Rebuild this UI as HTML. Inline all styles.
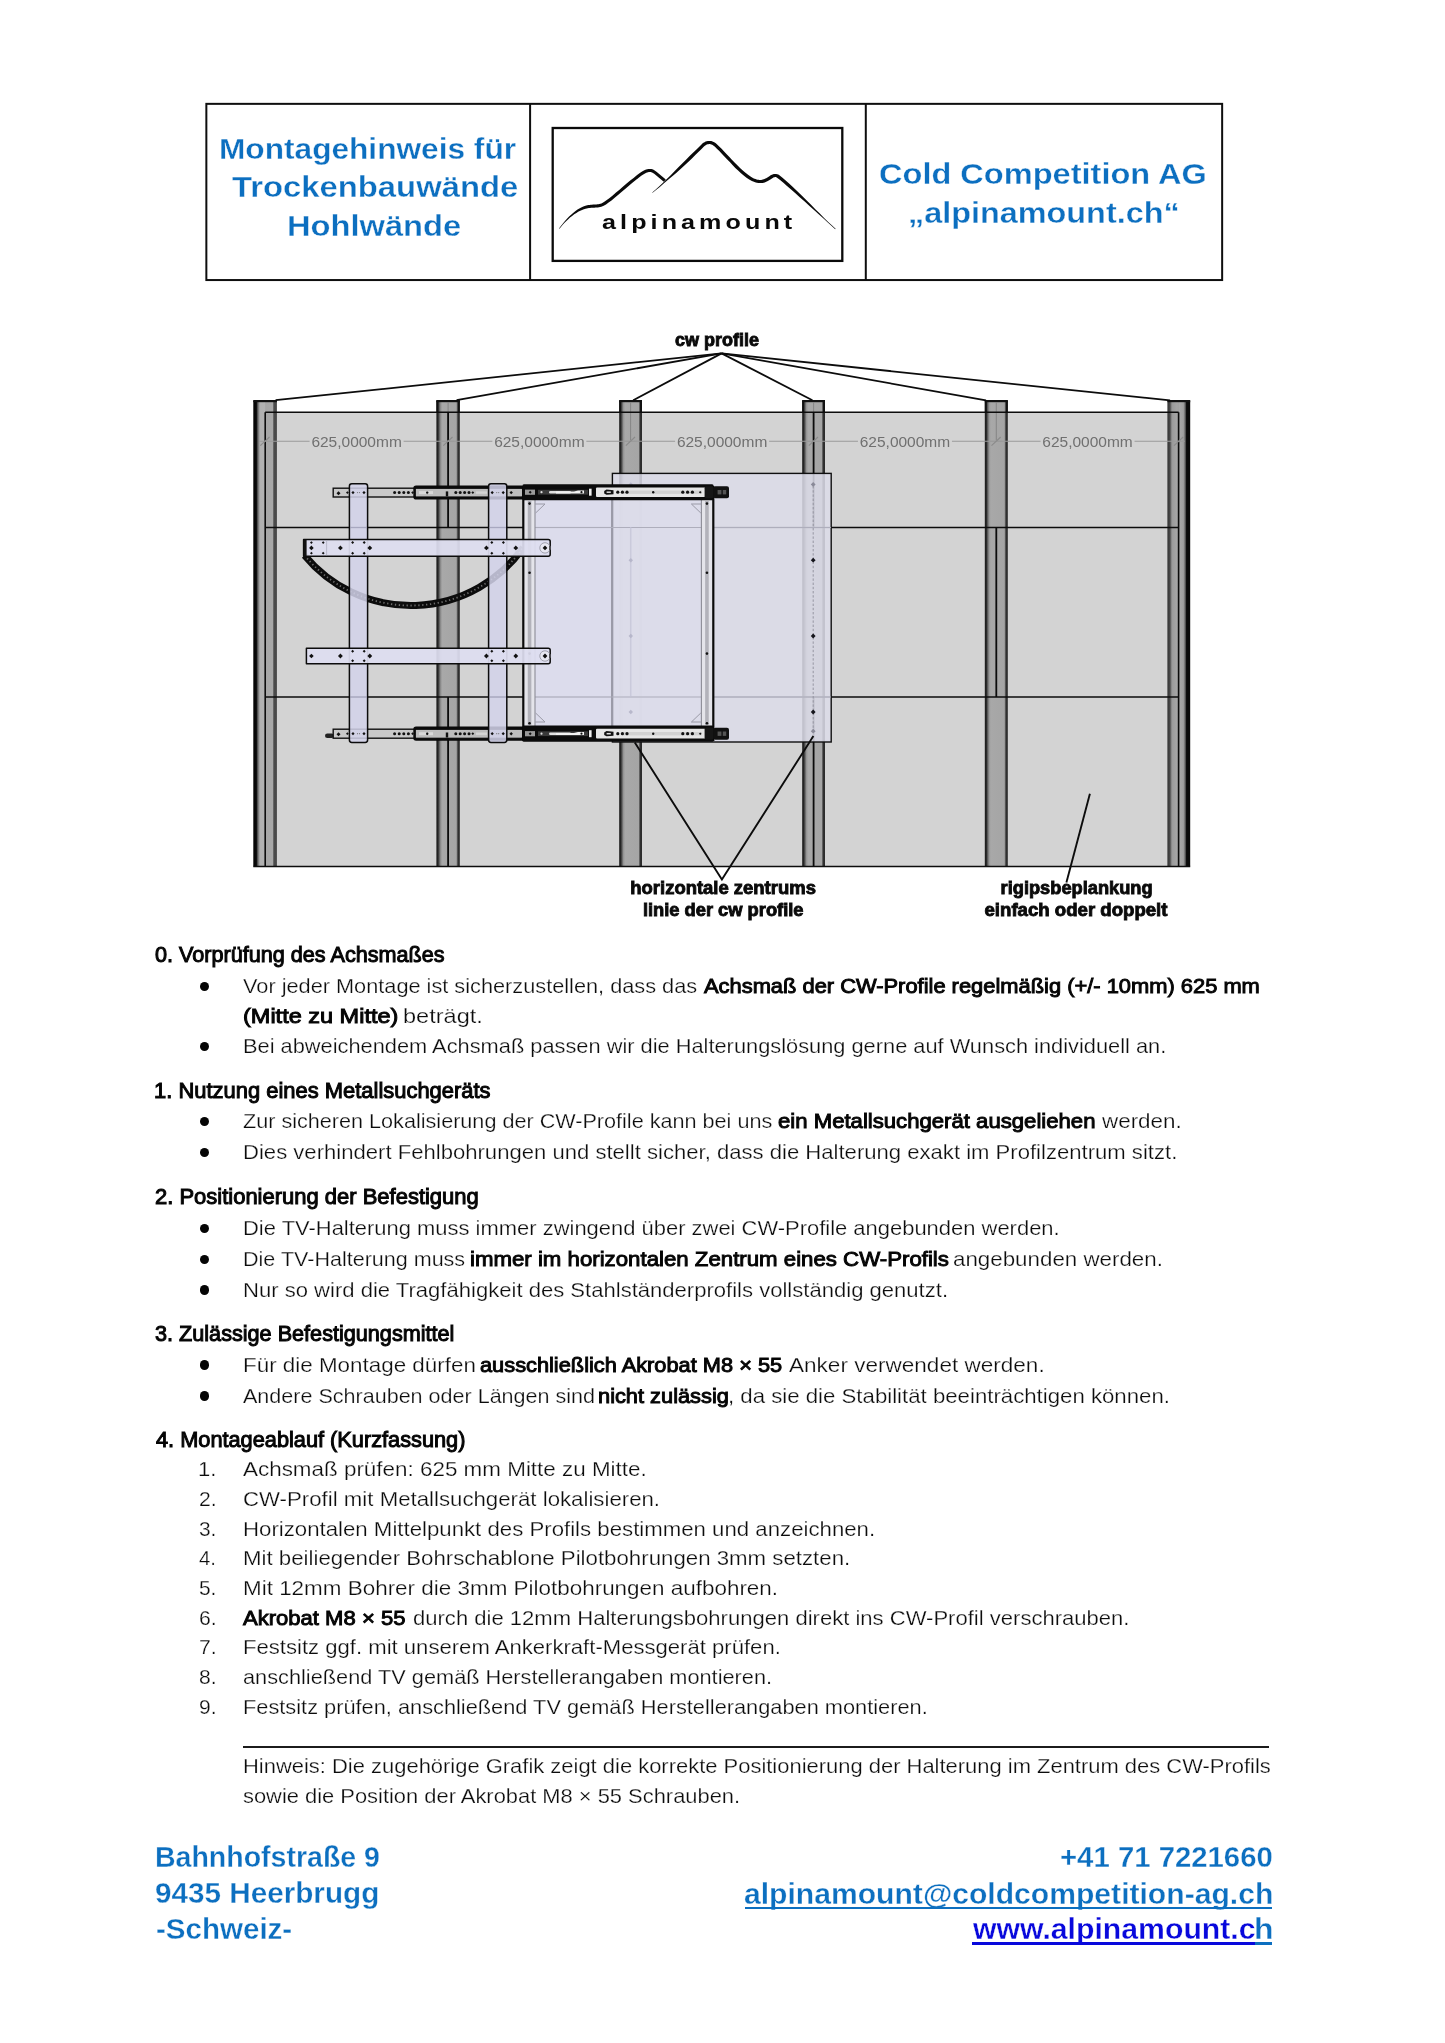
<!DOCTYPE html>
<html lang="de"><head><meta charset="utf-8"><title>Montagehinweis</title>
<style>
html,body{margin:0;padding:0;background:#fff}
body{width:1445px;height:2043px;position:relative;overflow:hidden;font-family:"Liberation Sans",sans-serif}
.t{position:absolute;white-space:nowrap;line-height:1;transform-origin:0 0;margin:0;padding:0}
.b{font-weight:bold}
.lt{-webkit-text-stroke:0.25px #fff}
.bl{-webkit-text-stroke:0.32px #fff}
.fb{-webkit-text-stroke:0.95px #050505}
.fh{-webkit-text-stroke:1.05px #050505}
#tx{position:absolute;left:0;top:0;width:1445px;height:2043px;will-change:transform}
.hd{position:absolute;border:1.9px solid #111;box-sizing:border-box}
.bu{position:absolute;width:9.4px;height:9.4px;border-radius:50%;background:#050505}
.ul{position:absolute;height:2.2px}
</style></head><body>
<svg width="1445" height="2043" viewBox="0 0 1445 2043" style="position:absolute;left:0;top:0;will-change:transform">
<defs>
<linearGradient id="sg" x1="0" x2="1" y1="0" y2="0">
<stop offset="0" stop-color="#1a1a1a"/><stop offset="0.07" stop-color="#262626"/><stop offset="0.12" stop-color="#5a5a5a"/>
<stop offset="0.19" stop-color="#969696"/><stop offset="0.26" stop-color="#a8a8a8"/><stop offset="0.85" stop-color="#a5a5a5"/>
<stop offset="0.89" stop-color="#606060"/><stop offset="0.93" stop-color="#303030"/><stop offset="1" stop-color="#2a2a2a"/>
</linearGradient>
<linearGradient id="sgr" x1="0" x2="1" y1="0" y2="0">
<stop offset="0" stop-color="#333"/><stop offset="0.11" stop-color="#484848"/><stop offset="0.2" stop-color="#9a9a9a"/>
<stop offset="0.42" stop-color="#a6a6a6"/><stop offset="0.48" stop-color="#a2a2a2"/>
<stop offset="0.52" stop-color="#a8a8a8"/><stop offset="0.70" stop-color="#a0a0a0"/><stop offset="0.78" stop-color="#666"/><stop offset="0.84" stop-color="#0a0a0a"/><stop offset="1" stop-color="#0a0a0a"/>
</linearGradient>
<linearGradient id="sgl" x1="0" x2="1" y1="0" y2="0">
<stop offset="0" stop-color="#050505"/><stop offset="0.13" stop-color="#080808"/><stop offset="0.19" stop-color="#606060"/>
<stop offset="0.28" stop-color="#b0b0b0"/><stop offset="0.48" stop-color="#b2b2b2"/>
<stop offset="0.52" stop-color="#a6a6a6"/><stop offset="0.82" stop-color="#a8a8a8"/><stop offset="0.87" stop-color="#4c4c4c"/><stop offset="1" stop-color="#464646"/>
</linearGradient>
</defs>
<rect x="265.2" y="412.2" width="913.4" height="454.2" fill="#d3d3d3"/>
<rect x="253.3" y="400.6" width="23.6" height="465.8" fill="url(#sgl)"/>
<rect x="253.3" y="400" width="23.6" height="2.2" fill="#111"/>
<rect x="436.4" y="400.6" width="23.4" height="465.8" fill="url(#sg)"/>
<rect x="436.4" y="400" width="23.4" height="2.2" fill="#111"/>
<path d="M437.35 400.6V412.2M458.85 400.6V412.2" stroke="#111" stroke-width="1.9" fill="none"/>
<line x1="448.1" x2="448.1" y1="402.6" y2="440.2" stroke="#777" stroke-width="0.7"/>
<rect x="619.2" y="400.6" width="22.8" height="465.8" fill="url(#sg)"/>
<rect x="619.2" y="400" width="22.8" height="2.2" fill="#111"/>
<path d="M620.15 400.6V412.2M641.05 400.6V412.2" stroke="#111" stroke-width="1.9" fill="none"/>
<line x1="630.6" x2="630.6" y1="402.6" y2="440.2" stroke="#777" stroke-width="0.7"/>
<rect x="802.2" y="400.6" width="22.8" height="465.8" fill="url(#sg)"/>
<rect x="802.2" y="400" width="22.8" height="2.2" fill="#111"/>
<path d="M803.15 400.6V412.2M824.05 400.6V412.2" stroke="#111" stroke-width="1.9" fill="none"/>
<line x1="813.6" x2="813.6" y1="402.6" y2="440.2" stroke="#777" stroke-width="0.7"/>
<rect x="984.8" y="400.6" width="23" height="465.8" fill="url(#sg)"/>
<rect x="984.8" y="400" width="23" height="2.2" fill="#111"/>
<path d="M985.75 400.6V412.2M1006.85 400.6V412.2" stroke="#111" stroke-width="1.9" fill="none"/>
<line x1="996.3" x2="996.3" y1="402.6" y2="440.2" stroke="#777" stroke-width="0.7"/>
<rect x="1167.4" y="400.6" width="22.8" height="465.8" fill="url(#sgr)"/>
<rect x="1167.4" y="400" width="22.8" height="2.2" fill="#111"/>
<path d="M265.2 412.2H1178.6M265.2 527.5H1178.6M265.2 697H1178.6M253.3 866.4H1190.2" stroke="#0c0c0c" stroke-width="1.5" fill="none"/>
<path d="M265.2 412.2V866.4M1178.6 412.2V866.4" stroke="#0c0c0c" stroke-width="1.6" fill="none"/>
<line x1="448.1" x2="448.1" y1="412.2" y2="527.5" stroke="#0c0c0c" stroke-width="1.8"/>
<line x1="448.1" x2="448.1" y1="697" y2="866.4" stroke="#0c0c0c" stroke-width="1.8"/>
<line x1="813.6" x2="813.6" y1="412.2" y2="527.5" stroke="#0c0c0c" stroke-width="1.8"/>
<line x1="813.6" x2="813.6" y1="697" y2="866.4" stroke="#0c0c0c" stroke-width="1.8"/>
<line x1="996.3" x2="996.3" y1="527.5" y2="697" stroke="#0c0c0c" stroke-width="1.8"/>
<line x1="630.6" x2="630.6" y1="527.5" y2="697" stroke="#0c0c0c" stroke-width="1.8"/>
<path d="M259.1 441.2H309.6M403.6 441.2H454.1" stroke="#9a9a9a" stroke-width="1.1" fill="none"/>
<text x="356.6" y="446.7" font-family="Liberation Sans, sans-serif" font-size="14.2" fill="#707070" text-anchor="middle" textLength="90.4" lengthAdjust="spacingAndGlyphs">625,0000mm</text>
<path d="M442.1 441.2H492.35M586.35 441.2H636.6" stroke="#9a9a9a" stroke-width="1.1" fill="none"/>
<text x="539.35" y="446.7" font-family="Liberation Sans, sans-serif" font-size="14.2" fill="#707070" text-anchor="middle" textLength="90.4" lengthAdjust="spacingAndGlyphs">625,0000mm</text>
<path d="M624.6 441.2H675.1M769.1 441.2H819.6" stroke="#9a9a9a" stroke-width="1.1" fill="none"/>
<text x="722.1" y="446.7" font-family="Liberation Sans, sans-serif" font-size="14.2" fill="#707070" text-anchor="middle" textLength="90.4" lengthAdjust="spacingAndGlyphs">625,0000mm</text>
<path d="M807.6 441.2H857.95M951.95 441.2H1002.3" stroke="#9a9a9a" stroke-width="1.1" fill="none"/>
<text x="904.95" y="446.7" font-family="Liberation Sans, sans-serif" font-size="14.2" fill="#707070" text-anchor="middle" textLength="90.4" lengthAdjust="spacingAndGlyphs">625,0000mm</text>
<path d="M990.3 441.2H1040.55M1134.55 441.2H1184.8" stroke="#9a9a9a" stroke-width="1.1" fill="none"/>
<text x="1087.55" y="446.7" font-family="Liberation Sans, sans-serif" font-size="14.2" fill="#707070" text-anchor="middle" textLength="90.4" lengthAdjust="spacingAndGlyphs">625,0000mm</text>
<line x1="260.3" y1="445.6" x2="269.5" y2="437" stroke="#8a8a8a" stroke-width="1.1"/>
<line x1="443.3" y1="445.6" x2="452.5" y2="437" stroke="#8a8a8a" stroke-width="1.1"/>
<line x1="625.8" y1="445.6" x2="635" y2="437" stroke="#8a8a8a" stroke-width="1.1"/>
<line x1="808.8" y1="445.6" x2="818" y2="437" stroke="#8a8a8a" stroke-width="1.1"/>
<line x1="991.5" y1="445.6" x2="1000.7" y2="437" stroke="#8a8a8a" stroke-width="1.1"/>
<line x1="1174" y1="445.6" x2="1183.2" y2="437" stroke="#8a8a8a" stroke-width="1.1"/>
<line x1="721.6" y1="353.4" x2="275.6" y2="400.2" stroke="#0c0c0c" stroke-width="1.8"/>
<line x1="721.6" y1="353.4" x2="456.6" y2="400.2" stroke="#0c0c0c" stroke-width="1.8"/>
<line x1="721.6" y1="353.4" x2="633.2" y2="400.2" stroke="#0c0c0c" stroke-width="1.8"/>
<line x1="721.6" y1="353.4" x2="812.4" y2="400.2" stroke="#0c0c0c" stroke-width="1.8"/>
<line x1="721.6" y1="353.4" x2="986" y2="400.4" stroke="#0c0c0c" stroke-width="1.8"/>
<line x1="721.6" y1="353.4" x2="1170" y2="400.4" stroke="#0c0c0c" stroke-width="1.8"/>
<rect x="333.2" y="488.2" width="190" height="8.8" fill="#c9c9c9" stroke="#111" stroke-width="1.4"/>
<rect x="414.6" y="486.9" width="108.5" height="11.4" rx="1.5" fill="none" stroke="#0a0a0a" stroke-width="2.6"/>
<rect x="416" y="489.1" width="106" height="7" fill="#bdbdbd"/>
<circle cx="394.6" cy="492.6" r="1.5" fill="#111"/>
<circle cx="399.2" cy="492.6" r="1.5" fill="#111"/>
<circle cx="403.8" cy="492.6" r="1.5" fill="#111"/>
<circle cx="408.4" cy="492.6" r="1.5" fill="#111"/>
<path d="M411.2 492.6L412.6 491.2L414 492.6L412.6 494Z" fill="#111" opacity="1"/>
<path d="M425.6 492.6L427.2 491L428.8 492.6L427.2 494.2Z" fill="#111" opacity="1"/>
<rect x="419" y="491.1" width="14" height="3" fill="#d8d8d8"/>
<circle cx="427.2" cy="492.6" r="1.2" fill="#111"/>
<rect x="445.8" y="491.4" width="2.4" height="5" fill="#111"/>
<circle cx="455.8" cy="492.6" r="1.5" fill="#111"/>
<circle cx="460.2" cy="492.6" r="1.5" fill="#111"/>
<circle cx="464.6" cy="492.6" r="1.5" fill="#111"/>
<circle cx="469" cy="492.6" r="1.5" fill="#111"/>
<path d="M471.4 492.6L472.8 491.2L474.2 492.6L472.8 494Z" fill="#111" opacity="1"/>
<rect x="476" y="491.4" width="11" height="2.4" fill="#d4d4d4"/>
<path d="M509.5 492.6L511.2 490.9L512.9 492.6L511.2 494.3Z" fill="#111" opacity="1"/>
<path d="M336.5 493.2L338.5 491.2L340.5 493.2L338.5 495.2Z" fill="#111" opacity="1"/>
<path d="M346 492.6L347.4 491.2L348.8 492.6L347.4 494Z" fill="#111" opacity="1"/>
<rect x="325" y="733.5" width="9" height="4.6" rx="2.3" fill="#222"/>
<rect x="333.2" y="729.2" width="190" height="9" fill="#c9c9c9" stroke="#111" stroke-width="1.4"/>
<rect x="414.6" y="727.9" width="108.5" height="11.6" rx="1.5" fill="none" stroke="#0a0a0a" stroke-width="2.6"/>
<rect x="416" y="730.1" width="106" height="7.2" fill="#bdbdbd"/>
<circle cx="394.6" cy="733.7" r="1.5" fill="#111"/>
<circle cx="399.2" cy="733.7" r="1.5" fill="#111"/>
<circle cx="403.8" cy="733.7" r="1.5" fill="#111"/>
<circle cx="408.4" cy="733.7" r="1.5" fill="#111"/>
<path d="M411.2 733.7L412.6 732.3L414 733.7L412.6 735.1Z" fill="#111" opacity="1"/>
<path d="M425.6 733.7L427.2 732.1L428.8 733.7L427.2 735.3Z" fill="#111" opacity="1"/>
<rect x="419" y="732.2" width="14" height="3" fill="#d8d8d8"/>
<circle cx="427.2" cy="733.7" r="1.2" fill="#111"/>
<rect x="445.8" y="732.5" width="2.4" height="5" fill="#111"/>
<circle cx="455.8" cy="733.7" r="1.5" fill="#111"/>
<circle cx="460.2" cy="733.7" r="1.5" fill="#111"/>
<circle cx="464.6" cy="733.7" r="1.5" fill="#111"/>
<circle cx="469" cy="733.7" r="1.5" fill="#111"/>
<path d="M471.4 733.7L472.8 732.3L474.2 733.7L472.8 735.1Z" fill="#111" opacity="1"/>
<rect x="476" y="732.5" width="11" height="2.4" fill="#d4d4d4"/>
<path d="M509.5 733.7L511.2 732L512.9 733.7L511.2 735.4Z" fill="#111" opacity="1"/>
<path d="M336.5 734.3L338.5 732.3L340.5 734.3L338.5 736.3Z" fill="#111" opacity="1"/>
<path d="M346 733.7L347.4 732.3L348.8 733.7L347.4 735.1Z" fill="#111" opacity="1"/>
<path d="M304.6 555.4A137.8 137.8 0 0 0 523.2 547.6" fill="none" stroke="#0c0c0c" stroke-width="7"/>
<path d="M304.6 555.4A137.8 137.8 0 0 0 523.2 547.6" fill="none" stroke="#6c6c6c" stroke-width="1.8" stroke-dasharray="1.3 2.6"/>
<rect x="349.4" y="483.8" width="18.2" height="258.6" rx="2.4" fill="#d3d3ea" fill-opacity="0.86" stroke="#0c0c0c" stroke-width="1.5"/>
<path d="M351.4 492.6L353 491L354.6 492.6L353 494.2Z" fill="#111" opacity="1"/>
<path d="M362.4 492.6L364 491L365.6 492.6L364 494.2Z" fill="#111" opacity="1"/>
<circle cx="357.5" cy="492.6" r="0.6" fill="#777"/>
<circle cx="359.5" cy="492.6" r="0.6" fill="#777"/>
<path d="M351.4 733.7L353 732.1L354.6 733.7L353 735.3Z" fill="#111" opacity="1"/>
<path d="M362.4 733.7L364 732.1L365.6 733.7L364 735.3Z" fill="#111" opacity="1"/>
<circle cx="357.5" cy="733.7" r="0.6" fill="#777"/>
<circle cx="359.5" cy="733.7" r="0.6" fill="#777"/>
<line x1="350.4" x2="366.6" y1="527.5" y2="527.5" stroke="#a8a8c0" stroke-width="1"/>
<line x1="350.4" x2="366.6" y1="697" y2="697" stroke="#a8a8c0" stroke-width="1"/>
<rect x="488.6" y="483.8" width="18.2" height="258.6" rx="2.4" fill="#d3d3ea" fill-opacity="0.86" stroke="#0c0c0c" stroke-width="1.5"/>
<path d="M490.6 492.6L492.2 491L493.8 492.6L492.2 494.2Z" fill="#111" opacity="1"/>
<path d="M501.6 492.6L503.2 491L504.8 492.6L503.2 494.2Z" fill="#111" opacity="1"/>
<circle cx="496.7" cy="492.6" r="0.6" fill="#777"/>
<circle cx="498.7" cy="492.6" r="0.6" fill="#777"/>
<path d="M490.6 733.7L492.2 732.1L493.8 733.7L492.2 735.3Z" fill="#111" opacity="1"/>
<path d="M501.6 733.7L503.2 732.1L504.8 733.7L503.2 735.3Z" fill="#111" opacity="1"/>
<circle cx="496.7" cy="733.7" r="0.6" fill="#777"/>
<circle cx="498.7" cy="733.7" r="0.6" fill="#777"/>
<line x1="489.6" x2="505.8" y1="527.5" y2="527.5" stroke="#a8a8c0" stroke-width="1"/>
<line x1="489.6" x2="505.8" y1="697" y2="697" stroke="#a8a8c0" stroke-width="1"/>
<rect x="523.2" y="499" width="190" height="228" fill="#dcdcee" fill-opacity="0.92"/>
<rect x="612.4" y="473.4" width="218.8" height="268.6" fill="#dcdce9" fill-opacity="0.86" stroke="#101010" stroke-width="1.4"/>
<line x1="612.4" x2="612.4" y1="500" y2="726" stroke="#9a9aa8" stroke-width="1.2"/>
<path d="M535 527.5H831M535 697H831" stroke="#aeaebc" stroke-width="1.1" fill="none"/>
<line x1="630.8" x2="630.8" y1="527" y2="697" stroke="#c4c4d6" stroke-width="1"/>
<path d="M628.6 484.4L630.8 482.2L633 484.4L630.8 486.6Z" fill="#b4b4c8" opacity="0.9"/>
<path d="M628.6 560.2L630.8 558L633 560.2L630.8 562.4Z" fill="#b4b4c8" opacity="0.9"/>
<path d="M628.6 636L630.8 633.8L633 636L630.8 638.2Z" fill="#b4b4c8" opacity="0.9"/>
<path d="M628.6 712L630.8 709.8L633 712L630.8 714.2Z" fill="#b4b4c8" opacity="0.9"/>
<line x1="813.2" x2="813.2" y1="486" y2="732" stroke="#8e8e9c" stroke-width="0.9" stroke-dasharray="2.4 1.8"/>
<path d="M810.8 560.2L813.2 557.8L815.6 560.2L813.2 562.6Z" fill="#15151c" opacity="1"/>
<path d="M810.8 636L813.2 633.6L815.6 636L813.2 638.4Z" fill="#15151c" opacity="1"/>
<path d="M810.8 712L813.2 709.6L815.6 712L813.2 714.4Z" fill="#15151c" opacity="1"/>
<path d="M810.8 484.4L813.2 482L815.6 484.4L813.2 486.8Z" fill="#8a8a98" opacity="1"/>
<path d="M810.8 731.2L813.2 728.8L815.6 731.2L813.2 733.6Z" fill="#8a8a98" opacity="1"/>
<rect x="523.3" y="499" width="11.7" height="228" fill="#e4e4ea"/>
<rect x="527.75" y="501" width="3.6" height="224" fill="#b2b2ba"/>
<line x1="535" x2="535" y1="499" y2="727" stroke="#8c8c96" stroke-width="1.1"/>
<line x1="523.3" x2="523.3" y1="486" y2="741" stroke="#0a0a0a" stroke-width="2.2"/>
<circle cx="529.55" cy="503.6" r="1.3" fill="#111"/>
<circle cx="529.55" cy="572.8" r="1.3" fill="#111"/>
<circle cx="529.55" cy="653.6" r="1.3" fill="#111"/>
<circle cx="529.55" cy="723.2" r="1.3" fill="#111"/>
<rect x="701.4" y="499" width="11.9" height="228" fill="#e4e4ea"/>
<rect x="705.15" y="501" width="3.6" height="224" fill="#b2b2ba"/>
<line x1="701.4" x2="701.4" y1="499" y2="727" stroke="#8c8c96" stroke-width="1.1"/>
<line x1="713.3" x2="713.3" y1="486" y2="741" stroke="#0a0a0a" stroke-width="2.2"/>
<circle cx="706.95" cy="503.6" r="1.3" fill="#111"/>
<circle cx="706.95" cy="572.8" r="1.3" fill="#111"/>
<circle cx="706.95" cy="653.6" r="1.3" fill="#111"/>
<circle cx="706.95" cy="723.2" r="1.3" fill="#111"/>
<path d="M535 504H545L535.6 513M701.4 504H691.4L700.8 513M535 722H545L535.6 713M701.4 722H691.4L700.8 713" stroke="#9a9aa6" stroke-width="1" fill="none"/>
<path d="M303.6 539.6H548.2Q550.2 539.6 550.2 541.6V554.2Q550.2 556.2 548.2 556.2H303.6Z" fill="#dedef0" fill-opacity="0.93" stroke="#0c0c0c" stroke-width="1.5" stroke-linejoin="round"/>
<rect x="303.6" y="539.6" width="3" height="16.6" fill="#111"/>
<line x1="326.6" x2="326.6" y1="540.6" y2="555.2" stroke="#b0b0c0" stroke-width="0.8"/>
<path d="M310 542.6L311.4 541.2L312.8 542.6L311.4 544Z" fill="#111" opacity="1"/>
<path d="M310 553.2L311.4 551.8L312.8 553.2L311.4 554.6Z" fill="#111" opacity="1"/>
<path d="M321.8 542.6L323.2 541.2L324.6 542.6L323.2 544Z" fill="#111" opacity="1"/>
<path d="M321.8 553.2L323.2 551.8L324.6 553.2L323.2 554.6Z" fill="#111" opacity="1"/>
<path d="M309.1 547.9L311.4 545.6L313.7 547.9L311.4 550.2Z" fill="#111" opacity="1"/>
<path d="M338 547.9L340.4 545.5L342.8 547.9L340.4 550.3Z" fill="#111" opacity="1"/>
<path d="M351.1 542.6L352.6 541.1L354.1 542.6L352.6 544.1Z" fill="#111" opacity="1"/>
<path d="M351.1 553.2L352.6 551.7L354.1 553.2L352.6 554.7Z" fill="#111" opacity="1"/>
<path d="M362.7 542.6L364.2 541.1L365.7 542.6L364.2 544.1Z" fill="#111" opacity="1"/>
<path d="M362.7 553.2L364.2 551.7L365.7 553.2L364.2 554.7Z" fill="#111" opacity="1"/>
<path d="M490.3 542.6L491.8 541.1L493.3 542.6L491.8 544.1Z" fill="#111" opacity="1"/>
<path d="M490.3 553.2L491.8 551.7L493.3 553.2L491.8 554.7Z" fill="#111" opacity="1"/>
<path d="M501.9 542.6L503.4 541.1L504.9 542.6L503.4 544.1Z" fill="#111" opacity="1"/>
<path d="M501.9 553.2L503.4 551.7L504.9 553.2L503.4 554.7Z" fill="#111" opacity="1"/>
<path d="M367.4 547.9L369.8 545.5L372.2 547.9L369.8 550.3Z" fill="#111" opacity="1"/>
<path d="M484 547.9L486.4 545.5L488.8 547.9L486.4 550.3Z" fill="#111" opacity="1"/>
<path d="M513.4 547.9L515.8 545.5L518.2 547.9L515.8 550.3Z" fill="#111" opacity="1"/>
<circle cx="545" cy="547.9" r="5.2" fill="#e8e8f2" stroke="#9a9aa6" stroke-width="0.9"/>
<path d="M542.6 547.9L545 545.5L547.4 547.9L545 550.3Z" fill="#111" opacity="1"/>
<path d="M549.4 544.9Q551.4 547.9 549.4 550.9" fill="#111"/>
<path d="M306.4 648.2H548.2Q550.2 648.2 550.2 650.2V661.8Q550.2 663.8 548.2 663.8H306.4Z" fill="#dedef0" fill-opacity="0.93" stroke="#0c0c0c" stroke-width="1.5" stroke-linejoin="round"/>
<path d="M309.1 656L311.4 653.7L313.7 656L311.4 658.3Z" fill="#111" opacity="1"/>
<path d="M338 656L340.4 653.6L342.8 656L340.4 658.4Z" fill="#111" opacity="1"/>
<path d="M351.1 651.2L352.6 649.7L354.1 651.2L352.6 652.7Z" fill="#111" opacity="1"/>
<path d="M351.1 660.8L352.6 659.3L354.1 660.8L352.6 662.3Z" fill="#111" opacity="1"/>
<path d="M362.7 651.2L364.2 649.7L365.7 651.2L364.2 652.7Z" fill="#111" opacity="1"/>
<path d="M362.7 660.8L364.2 659.3L365.7 660.8L364.2 662.3Z" fill="#111" opacity="1"/>
<path d="M490.3 651.2L491.8 649.7L493.3 651.2L491.8 652.7Z" fill="#111" opacity="1"/>
<path d="M490.3 660.8L491.8 659.3L493.3 660.8L491.8 662.3Z" fill="#111" opacity="1"/>
<path d="M501.9 651.2L503.4 649.7L504.9 651.2L503.4 652.7Z" fill="#111" opacity="1"/>
<path d="M501.9 660.8L503.4 659.3L504.9 660.8L503.4 662.3Z" fill="#111" opacity="1"/>
<path d="M367.4 656L369.8 653.6L372.2 656L369.8 658.4Z" fill="#111" opacity="1"/>
<path d="M484 656L486.4 653.6L488.8 656L486.4 658.4Z" fill="#111" opacity="1"/>
<path d="M513.4 656L515.8 653.6L518.2 656L515.8 658.4Z" fill="#111" opacity="1"/>
<circle cx="545" cy="656" r="5.2" fill="#e8e8f2" stroke="#9a9aa6" stroke-width="0.9"/>
<path d="M542.6 656L545 653.6L547.4 656L545 658.4Z" fill="#111" opacity="1"/>
<path d="M549.4 653Q551.4 656 549.4 659" fill="#111"/>
<rect x="522.4" y="484.2" width="191.2" height="16" rx="1.5" fill="#0b0b0b"/>
<rect x="525" y="489.6" width="10" height="5.2" fill="#9a9a9a"/>
<path d="M528.7 492.2L530.2 490.7L531.7 492.2L530.2 493.7Z" fill="#111" opacity="1"/>
<rect x="538" y="489.8" width="50" height="4.8" fill="#3a3a3a"/>
<rect x="549" y="490.9" width="22" height="2.6" rx="1.3" fill="#e2e2e2"/>
<path d="M556 491.6L574 491.6L578 490.6L584 490.6L584 493.4L556 493.4Z" fill="#f2f2f2"/>
<circle cx="541.5" cy="492.2" r="1.1" fill="#ddd"/>
<circle cx="581.5" cy="492.2" r="1.1" fill="#111"/>
<rect x="589" y="488.7" width="2.6" height="7" fill="#eee"/>
<rect x="596" y="487.4" width="109.4" height="9.6" rx="1" fill="#e6e6e6"/>
<rect x="622" y="490.5" width="80" height="3.4" fill="#d2d2d2"/>
<path d="M604.2 491L606.5 489.6L613.5 490.2L613.5 494.2L606.5 494.8L604.2 493.4Z" fill="#111"/>
<rect x="606.6" y="491.45" width="4.2" height="1.5" fill="#ddd"/>
<circle cx="617.8" cy="492.2" r="1.6" fill="#111"/>
<circle cx="622.4" cy="492.2" r="1.6" fill="#111"/>
<circle cx="627" cy="492.2" r="1.6" fill="#111"/>
<circle cx="653.2" cy="492.2" r="1.2" fill="#111"/>
<circle cx="682.8" cy="492.2" r="1.6" fill="#111"/>
<circle cx="687.6" cy="492.2" r="1.6" fill="#111"/>
<circle cx="692.4" cy="492.2" r="1.6" fill="#111"/>
<path d="M698.9 492.2L700.2 490.9L701.5 492.2L700.2 493.5Z" fill="#111" opacity="1"/>
<rect x="704.6" y="486.2" width="9" height="12" rx="2" fill="#161616"/>
<rect x="713.4" y="486.2" width="15.6" height="12" rx="2" fill="#111"/>
<rect x="717.6" y="490" width="3.8" height="4.4" fill="#555"/>
<rect x="722.8" y="490" width="3.4" height="4.4" fill="#555"/>
<rect x="522.4" y="725.6" width="191.2" height="16.2" rx="1.5" fill="#0b0b0b"/>
<rect x="525" y="731.1" width="10" height="5.2" fill="#9a9a9a"/>
<path d="M528.7 733.7L530.2 732.2L531.7 733.7L530.2 735.2Z" fill="#111" opacity="1"/>
<rect x="538" y="731.3" width="50" height="4.8" fill="#3a3a3a"/>
<rect x="549" y="732.4" width="22" height="2.6" rx="1.3" fill="#e2e2e2"/>
<path d="M556 733.1L574 733.1L578 732.1L584 732.1L584 734.9L556 734.9Z" fill="#f2f2f2"/>
<circle cx="541.5" cy="733.7" r="1.1" fill="#ddd"/>
<circle cx="581.5" cy="733.7" r="1.1" fill="#111"/>
<rect x="589" y="730.2" width="2.6" height="7" fill="#eee"/>
<rect x="596" y="728.8" width="109.4" height="9.8" rx="1" fill="#e6e6e6"/>
<rect x="622" y="732" width="80" height="3.4" fill="#d2d2d2"/>
<path d="M604.2 732.5L606.5 731.1L613.5 731.7L613.5 735.7L606.5 736.3L604.2 734.9Z" fill="#111"/>
<rect x="606.6" y="732.95" width="4.2" height="1.5" fill="#ddd"/>
<circle cx="617.8" cy="733.7" r="1.6" fill="#111"/>
<circle cx="622.4" cy="733.7" r="1.6" fill="#111"/>
<circle cx="627" cy="733.7" r="1.6" fill="#111"/>
<circle cx="653.2" cy="733.7" r="1.2" fill="#111"/>
<circle cx="682.8" cy="733.7" r="1.6" fill="#111"/>
<circle cx="687.6" cy="733.7" r="1.6" fill="#111"/>
<circle cx="692.4" cy="733.7" r="1.6" fill="#111"/>
<path d="M698.9 733.7L700.2 732.4L701.5 733.7L700.2 735Z" fill="#111" opacity="1"/>
<rect x="704.6" y="727.6" width="9" height="12.2" rx="2" fill="#161616"/>
<rect x="713.4" y="727.7" width="15.6" height="12" rx="2" fill="#111"/>
<rect x="717.6" y="731.5" width="3.8" height="4.4" fill="#555"/>
<rect x="722.8" y="731.5" width="3.4" height="4.4" fill="#555"/>
<path d="M634.8 742.4L721.9 879.6L813.4 736" stroke="#0c0c0c" stroke-width="1.9" fill="none" stroke-linejoin="miter"/>
<line x1="1089.9" y1="793.8" x2="1066.4" y2="882.6" stroke="#0c0c0c" stroke-width="1.9"/>
<text x="717" y="345.8" font-family="Liberation Sans, sans-serif" font-weight="bold" font-size="17.6" fill="#0a0a0a" stroke="#0a0a0a" stroke-width="0.85" text-anchor="middle" lengthAdjust="spacingAndGlyphs" textLength="84">cw profile</text>
<text x="723.1" y="893.8" font-family="Liberation Sans, sans-serif" font-weight="bold" font-size="17.6" fill="#0a0a0a" stroke="#0a0a0a" stroke-width="0.85" text-anchor="middle" lengthAdjust="spacingAndGlyphs" textLength="185.6">horizontale zentrums</text>
<text x="723.2" y="916.4" font-family="Liberation Sans, sans-serif" font-weight="bold" font-size="17.6" fill="#0a0a0a" stroke="#0a0a0a" stroke-width="0.85" text-anchor="middle" lengthAdjust="spacingAndGlyphs" textLength="160.6">linie der cw profile</text>
<text x="1076.6" y="893.8" font-family="Liberation Sans, sans-serif" font-weight="bold" font-size="17.6" fill="#0a0a0a" stroke="#0a0a0a" stroke-width="0.85" text-anchor="middle" lengthAdjust="spacingAndGlyphs" textLength="152">rigipsbeplankung</text>
<text x="1076" y="916.4" font-family="Liberation Sans, sans-serif" font-weight="bold" font-size="17.6" fill="#0a0a0a" stroke="#0a0a0a" stroke-width="0.85" text-anchor="middle" lengthAdjust="spacingAndGlyphs" textLength="183">einfach oder doppelt</text>
</svg>
<svg width="1445" height="300" viewBox="0 0 1445 300" style="position:absolute;left:0;top:0"><rect x="206.35" y="103.85" width="1015.8" height="176.2" fill="none" stroke="#0e0e0e" stroke-width="2"/><path d="M530.1 104V280M865.8 104V280" stroke="#0e0e0e" stroke-width="2" fill="none"/><rect x="552.7" y="128" width="289.6" height="132.9" fill="none" stroke="#0a0a0a" stroke-width="2.3"/><path d="M559.4 228.8L560.9 226.9L562.5 225.0L564.3 223.1L566.1 221.2L568.0 219.4L570.0 217.6L572.1 215.9L574.2 214.3L576.4 212.9L578.6 211.6L580.9 210.4L583.2 209.5L585.5 208.8L587.8 208.3L588.9 208.1L590.0 207.9L591.1 207.8L592.2 207.8L593.3 207.7L594.4 207.7L595.5 207.6L596.7 207.5L597.8 207.4L599.0 207.2L600.1 207.0L601.3 206.7L602.5 206.3L603.7 205.8L606.0 204.4L608.6 202.6L611.5 200.4L614.7 197.8L618.0 195.0L621.5 192.0L625.1 189.0L628.6 186.0L632.1 183.0L635.5 180.3L638.7 177.8L641.6 175.6L644.1 174.0L646.3 172.8L647.1 172.5L648.0 172.2L648.8 172.1L649.5 172.0L650.1 172.0L650.8 172.1L651.4 172.3L652.0 172.5L652.5 172.7L653.1 173.1L653.7 173.4L654.2 173.8L654.8 174.3L655.4 174.8L663.8 181.8L665.8 179.4L657.4 172.4L656.8 171.9L656.1 171.4L655.4 170.9L654.7 170.4L653.9 170.0L653.1 169.6L652.3 169.3L651.4 169.1L650.4 168.9L649.4 168.9L648.3 169.0L647.3 169.2L646.1 169.5L644.9 170.0L642.5 171.3L639.8 173.1L636.8 175.3L633.6 177.9L630.2 180.6L626.6 183.6L623.1 186.6L619.5 189.7L616.0 192.6L612.7 195.4L609.6 197.9L606.8 200.1L604.3 201.8L602.3 203.0L601.4 203.4L600.4 203.7L599.4 204.0L598.4 204.2L597.4 204.3L596.4 204.4L595.3 204.5L594.3 204.6L593.1 204.6L592.0 204.7L590.8 204.8L589.6 204.9L588.4 205.1L587.2 205.3L584.6 206.0L582.2 207.0L579.8 208.2L577.5 209.6L575.2 211.2L573.1 212.9L571.1 214.7L569.1 216.6L567.2 218.6L565.4 220.6L563.7 222.6L562.1 224.6L560.5 226.6L559.0 228.4Z" fill="#0a0a0a"/>
<path d="M652.6 192.8L656.0 190.0L659.8 186.9L663.7 183.6L667.8 180.1L672.0 176.6L676.2 173.0L680.3 169.3L684.4 165.6L688.2 162.0L691.9 158.4L695.3 155.1L698.4 152.0L701.3 149.2L703.7 146.8L704.5 146.0L705.3 145.4L706.0 145.0L706.8 144.6L707.6 144.3L708.3 144.2L709.1 144.1L709.8 144.1L710.6 144.3L711.4 144.5L712.2 144.8L713.0 145.3L713.9 145.9L714.7 146.6L716.9 148.7L719.3 151.1L721.8 153.7L724.4 156.4L727.0 159.3L729.8 162.1L732.5 165.0L735.3 167.9L738.1 170.6L741.0 173.2L743.7 175.6L746.5 177.7L749.2 179.6L751.9 181.0L753.2 181.6L754.5 182.1L755.8 182.5L757.0 182.8L758.2 183.0L759.3 183.1L760.4 183.1L761.5 183.1L762.6 182.9L763.7 182.7L764.7 182.4L765.7 182.0L766.8 181.5L767.8 181.0L768.7 180.5L769.5 179.9L770.4 179.4L771.2 178.9L771.9 178.4L772.7 178.0L773.4 177.6L774.0 177.3L774.6 177.2L775.2 177.1L775.7 177.1L776.2 177.2L776.8 177.5L777.4 177.9L780.1 180.0L783.4 182.7L787.0 185.9L791.1 189.5L795.4 193.3L800.0 197.4L804.7 201.6L809.5 205.9L814.3 210.2L819.0 214.4L823.5 218.5L827.8 222.4L831.7 226.0L835.2 229.2L835.6 228.8L832.1 225.6L828.2 221.9L824.1 217.9L819.8 213.6L815.3 209.2L810.8 204.6L806.2 200.1L801.7 195.6L797.3 191.3L793.1 187.3L789.1 183.6L785.4 180.3L782.2 177.6L779.4 175.3L778.3 174.6L777.2 174.2L776.1 173.9L775.0 173.9L774.0 174.0L773.0 174.3L772.0 174.7L771.1 175.1L770.3 175.6L769.4 176.2L768.6 176.7L767.8 177.2L767.0 177.7L766.2 178.2L765.4 178.6L764.5 179.0L763.7 179.3L762.9 179.6L762.0 179.8L761.2 179.9L760.4 180.0L759.5 179.9L758.6 179.8L757.6 179.7L756.6 179.4L755.6 179.1L754.5 178.7L753.3 178.2L750.9 176.8L748.4 175.1L745.8 173.1L743.1 170.8L740.3 168.3L737.6 165.6L734.8 162.8L732.1 159.9L729.4 157.1L726.7 154.2L724.1 151.5L721.6 148.8L719.2 146.4L716.9 144.2L715.8 143.3L714.7 142.6L713.6 142.0L712.5 141.5L711.3 141.1L710.2 140.9L709.0 140.9L707.9 141.0L706.7 141.2L705.6 141.6L704.5 142.2L703.4 142.8L702.4 143.6L701.5 144.4L699.0 146.9L696.2 149.7L693.0 152.8L689.6 156.1L686.0 159.7L682.2 163.4L678.4 167.3L674.5 171.2L670.7 175.2L666.8 179.0L663.0 182.8L659.3 186.3L655.7 189.5L652.2 192.4Z" fill="#0a0a0a"/></svg>
<div id="tx">
<div class="t fh" style="left:155.34px;top:943px;font-size:22.8px;color:#050505;transform:translateY(0.30px) scaleX(0.9482);">0. Vorprüfung des Achsmaßes</div>
<div class="t lt" style="left:242.90px;top:975px;font-size:21.0px;color:#0c0c0c;transform:translateY(0.32px) scaleX(1.0347);">Vor jeder Montage ist sicherzustellen, dass das</div>
<div class="t fb" style="left:704.00px;top:975px;font-size:21.0px;color:#050505;transform:translateY(0.32px) scaleX(1.0419);">Achsmaß der CW-Profile regelmäßig (+/- 10mm) 625 mm</div>
<div class="t fb" style="left:242.50px;top:1004px;font-size:21.0px;color:#050505;transform:translateY(0.82px) scaleX(1.1188);">(Mitte zu Mitte)</div>
<div class="t lt" style="left:402.64px;top:1004px;font-size:21.0px;color:#0c0c0c;transform:translateY(0.82px) scaleX(1.1208);">beträgt.</div>
<div class="t lt" style="left:242.50px;top:1035px;font-size:21.0px;color:#0c0c0c;transform:translateY(0.12px) scaleX(1.0384);">Bei abweichendem Achsmaß passen wir die Halterungslösung gerne auf Wunsch individuell an.</div>
<div class="t fh" style="left:154.46px;top:1078px;font-size:22.8px;color:#050505;transform:translateY(1.00px) scaleX(0.9623);">1. Nutzung eines Metallsuchgeräts</div>
<div class="t lt" style="left:242.50px;top:1110px;font-size:21.0px;color:#0c0c0c;transform:translateY(0.42px) scaleX(1.0289);">Zur sicheren Lokalisierung der CW-Profile kann bei uns</div>
<div class="t fb" style="left:777.86px;top:1110px;font-size:21.0px;color:#050505;transform:translateY(0.42px) scaleX(1.0541);">ein Metallsuchgerät ausgeliehen</div>
<div class="t lt" style="left:1101.81px;top:1110px;font-size:21.0px;color:#0c0c0c;transform:translateY(0.42px) scaleX(1.0675);">werden.</div>
<div class="t lt" style="left:242.50px;top:1141px;font-size:21.0px;color:#0c0c0c;transform:translateY(0.22px) scaleX(1.0518);">Dies verhindert Fehlbohrungen und stellt sicher, dass die Halterung exakt im Profilzentrum sitzt.</div>
<div class="t fh" style="left:155.04px;top:1185px;font-size:22.8px;color:#050505;transform:translateY(0.30px) scaleX(0.9640);">2. Positionierung der Befestigung</div>
<div class="t lt" style="left:242.50px;top:1217px;font-size:21.0px;color:#0c0c0c;transform:translateY(0.42px) scaleX(1.0453);">Die TV-Halterung muss immer zwingend über zwei CW-Profile angebunden werden.</div>
<div class="t lt" style="left:242.50px;top:1248px;font-size:21.0px;color:#0c0c0c;transform:translateY(0.12px) scaleX(1.0251);">Die TV-Halterung muss</div>
<div class="t fb" style="left:469.72px;top:1248px;font-size:21.0px;color:#050505;transform:translateY(0.12px) scaleX(1.0586);">immer im horizontalen Zentrum eines CW-Profils</div>
<div class="t lt" style="left:953.15px;top:1248px;font-size:21.0px;color:#0c0c0c;transform:translateY(0.12px) scaleX(1.0637);">angebunden werden.</div>
<div class="t lt" style="left:242.50px;top:1278px;font-size:21.0px;color:#0c0c0c;transform:translateY(0.72px) scaleX(1.0504);">Nur so wird die Tragfähigkeit des Stahlständerprofils vollständig genutzt.</div>
<div class="t fh" style="left:155.34px;top:1321px;font-size:22.8px;color:#050505;transform:translateY(0.50px) scaleX(0.9489);">3. Zulässige Befestigungsmittel</div>
<div class="t lt" style="left:242.50px;top:1353px;font-size:21.0px;color:#0c0c0c;transform:translateY(0.82px) scaleX(1.0667);">Für die Montage dürfen</div>
<div class="t fb" style="left:480.07px;top:1353px;font-size:21.0px;color:#050505;transform:translateY(0.82px) scaleX(1.0375);">ausschließlich Akrobat M8 × 55</div>
<div class="t lt" style="left:789.40px;top:1353px;font-size:21.0px;color:#0c0c0c;transform:translateY(0.82px) scaleX(1.0737);">Anker verwendet werden.</div>
<div class="t lt" style="left:242.90px;top:1384px;font-size:21.0px;color:#0c0c0c;transform:translateY(0.82px) scaleX(1.0255);">Andere Schrauben oder Längen sind</div>
<div class="t fb" style="left:598.35px;top:1384px;font-size:21.0px;color:#050505;transform:translateY(0.82px) scaleX(1.0382);">nicht zulässig</div>
<div class="t lt" style="left:727.50px;top:1384px;font-size:21.0px;color:#0c0c0c;transform:translateY(0.82px) scaleX(1.0574);">, da sie die Stabilität beeinträchtigen können.</div>
<div class="t fh" style="left:155.62px;top:1427px;font-size:22.8px;color:#050505;transform:translateY(0.60px) scaleX(0.9539);">4. Montageablauf (Kurzfassung)</div>
<div class="t lt" style="left:197.92px;top:1457px;font-size:21.0px;color:#0c0c0c;transform:translateY(0.97px) scaleX(1.0512);">1.</div>
<div class="t lt" style="left:242.90px;top:1457px;font-size:21.0px;color:#0c0c0c;transform:translateY(0.97px) scaleX(1.0678);">Achsmaß prüfen: 625 mm Mitte zu Mitte.</div>
<div class="t lt" style="left:198.59px;top:1488px;font-size:21.0px;color:#0c0c0c;transform:translateY(0.07px) scaleX(1.0082);">2.</div>
<div class="t lt" style="left:242.50px;top:1488px;font-size:21.0px;color:#0c0c0c;transform:translateY(0.07px) scaleX(1.0583);">CW-Profil mit Metallsuchgerät lokalisieren.</div>
<div class="t lt" style="left:198.80px;top:1517px;font-size:21.0px;color:#0c0c0c;transform:translateY(0.77px) scaleX(0.9947);">3.</div>
<div class="t lt" style="left:242.50px;top:1517px;font-size:21.0px;color:#0c0c0c;transform:translateY(0.77px) scaleX(1.0577);">Horizontalen Mittelpunkt des Profils bestimmen und anzeichnen.</div>
<div class="t lt" style="left:199.21px;top:1547px;font-size:21.0px;color:#0c0c0c;transform:translateY(0.37px) scaleX(0.9686);">4.</div>
<div class="t lt" style="left:242.50px;top:1547px;font-size:21.0px;color:#0c0c0c;transform:translateY(0.37px) scaleX(1.0594);">Mit beiliegender Bohrschablone Pilotbohrungen 3mm setzten.</div>
<div class="t lt" style="left:198.80px;top:1577px;font-size:21.0px;color:#0c0c0c;transform:translateY(0.07px) scaleX(0.9947);">5.</div>
<div class="t lt" style="left:242.50px;top:1577px;font-size:21.0px;color:#0c0c0c;transform:translateY(0.07px) scaleX(1.0685);">Mit 12mm Bohrer die 3mm Pilotbohrungen aufbohren.</div>
<div class="t lt" style="left:198.59px;top:1606px;font-size:21.0px;color:#0c0c0c;transform:translateY(0.77px) scaleX(1.0082);">6.</div>
<div class="t fb" style="left:242.90px;top:1606px;font-size:21.0px;color:#050505;transform:translateY(0.77px) scaleX(1.0501);">Akrobat M8 × 55</div>
<div class="t lt" style="left:412.86px;top:1606px;font-size:21.0px;color:#0c0c0c;transform:translateY(0.77px) scaleX(1.0499);">durch die 12mm Halterungsbohrungen direkt ins CW-Profil verschrauben.</div>
<div class="t lt" style="left:198.59px;top:1636px;font-size:21.0px;color:#0c0c0c;transform:translateY(0.47px) scaleX(1.0082);">7.</div>
<div class="t lt" style="left:242.50px;top:1636px;font-size:21.0px;color:#0c0c0c;transform:translateY(0.47px) scaleX(1.0521);">Festsitz ggf. mit unserem Ankerkraft-Messgerät prüfen.</div>
<div class="t lt" style="left:198.70px;top:1666px;font-size:21.0px;color:#0c0c0c;transform:translateY(0.17px) scaleX(1.0014);">8.</div>
<div class="t lt" style="left:242.50px;top:1666px;font-size:21.0px;color:#0c0c0c;transform:translateY(0.17px) scaleX(1.0355);">anschließend TV gemäß Herstellerangaben montieren.</div>
<div class="t lt" style="left:198.70px;top:1695px;font-size:21.0px;color:#0c0c0c;transform:translateY(0.77px) scaleX(1.0014);">9.</div>
<div class="t lt" style="left:242.50px;top:1695px;font-size:21.0px;color:#0c0c0c;transform:translateY(0.77px) scaleX(1.0370);">Festsitz prüfen, anschließend TV gemäß Herstellerangaben montieren.</div>
<div class="t lt" style="left:242.50px;top:1754px;font-size:21.0px;color:#0c0c0c;transform:translateY(0.87px) scaleX(1.0450);">Hinweis: Die zugehörige Grafik zeigt die korrekte Positionierung der Halterung im Zentrum des CW-Profils</div>
<div class="t lt" style="left:242.50px;top:1785px;font-size:21.0px;color:#0c0c0c;transform:translateY(0.17px) scaleX(1.0424);">sowie die Position der Akrobat M8 × 55 Schrauben.</div>
<div class="t b bl" style="left:219.22px;top:133px;font-size:30.0px;color:#0c6fc0;transform:translateY(0.50px) scaleX(1.0545);">Montagehinweis für</div>
<div class="t b bl" style="left:231.80px;top:172px;font-size:30.0px;color:#0c6fc0;transform:translateY(0.30px) scaleX(1.0935);">Trockenbauwände</div>
<div class="t b bl" style="left:287.36px;top:211px;font-size:30.0px;color:#0c6fc0;transform:translateY(0.20px) scaleX(1.0884);">Hohlwände</div>
<div class="t b bl" style="left:879.48px;top:159px;font-size:30.0px;color:#0c6fc0;transform:translateY(0.40px) scaleX(1.0849);">Cold Competition AG</div>
<div class="t b bl" style="left:907.98px;top:198px;font-size:30.0px;color:#0c6fc0;transform:translateY(0.30px) scaleX(1.0794);">„alpinamount.ch“</div>
<div class="t b bl" style="left:155.12px;top:1842px;font-size:29.8px;color:#0c6fc0;transform:translateY(0.47px) scaleX(0.9569);">Bahnhofstraße 9</div>
<div class="t b bl" style="left:155.47px;top:1877px;font-size:29.8px;color:#0c6fc0;transform:translateY(0.97px) scaleX(0.9959);">9435 Heerbrugg</div>
<div class="t b bl" style="left:155.68px;top:1914px;font-size:29.8px;color:#0c6fc0;transform:translateY(0.07px) scaleX(0.9910);">-Schweiz-</div>
<div class="t b bl" style="left:1060.28px;top:1841px;font-size:29.8px;color:#0c6fc0;transform:translateY(0.97px) scaleX(0.9840);">+41 71 7221660</div>
<div class="t b bl" style="left:744.43px;top:1878px;font-size:29.8px;color:#0c6fc0;transform:translateY(0.97px) scaleX(1.0100);">alpinamount@coldcompetition-ag.ch</div>
<div class="t b bl" style="left:972.57px;top:1914px;font-size:29.8px;color:#0808dc;transform:translateY(0.27px) scaleX(1.0139);">www.alpinamount.c</div>
<div class="t b bl" style="left:1254.41px;top:1914px;font-size:29.8px;color:#0c6fc0;transform:translateY(0.27px) scaleX(1.0671);">h</div>
<div class="t b" style="left:602.36px;top:212px;font-size:19.6px;color:#0a0a0a;transform:translateY(0.71px) scaleX(1.2809);letter-spacing:3.2px;">alpinamount</div>
</div>
<div class="bu" style="left:199.6px;top:981.9px"></div>
<div class="bu" style="left:199.6px;top:1041.7px"></div>
<div class="bu" style="left:199.6px;top:1117.0px"></div>
<div class="bu" style="left:199.6px;top:1147.8px"></div>
<div class="bu" style="left:199.6px;top:1224.0px"></div>
<div class="bu" style="left:199.6px;top:1254.7px"></div>
<div class="bu" style="left:199.6px;top:1285.3px"></div>
<div class="bu" style="left:199.6px;top:1360.4px"></div>
<div class="bu" style="left:199.6px;top:1391.4px"></div>
<div style="position:absolute;left:243px;top:1746.3px;width:1026.4px;height:1.8px;background:#1c1c1c"></div>
<div class="ul" style="left:744.6px;top:1906.6px;width:527.8px;background:#0c6fc0"></div>
<div class="ul" style="left:972px;top:1942.4px;width:283.4px;background:#0808dc"></div>
<div class="ul" style="left:1255.4px;top:1942.4px;width:17px;background:#0c6fc0"></div>
</body></html>
